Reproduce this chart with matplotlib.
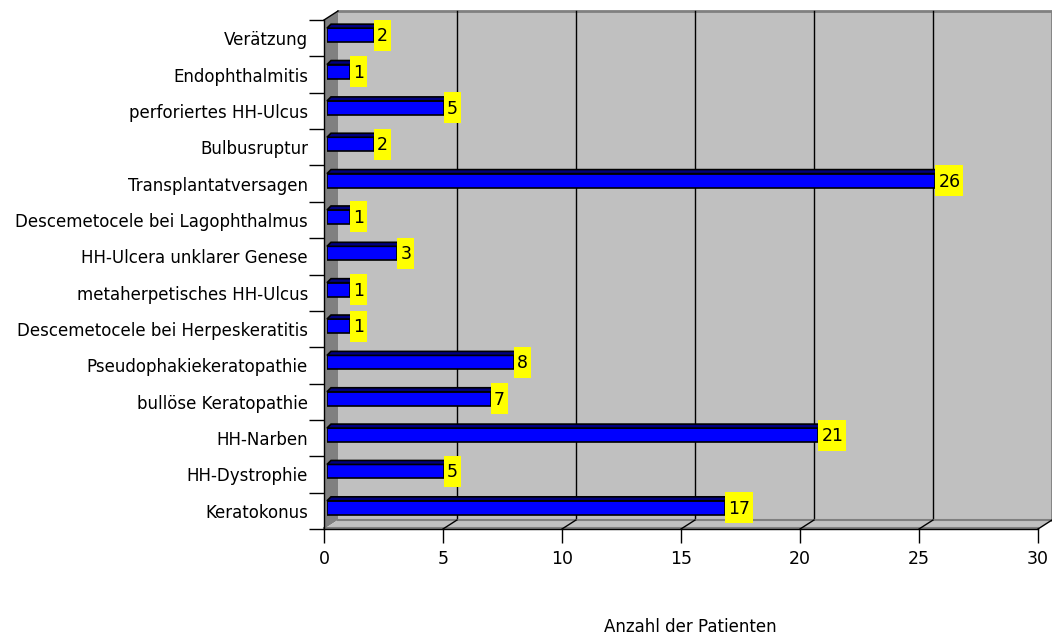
import matplotlib
matplotlib.use("Agg")
import matplotlib.pyplot as plt
import matplotlib.transforms as mtransforms
from matplotlib.patches import Rectangle, Polygon

# Diagnosen (von oben nach unten) und Anzahl der Patienten
diagnosen = [
    "Verätzung",
    "Endophthalmitis",
    "perforiertes HH-Ulcus",
    "Bulbusruptur",
    "Transplantatversagen",
    "Descemetocele bei Lagophthalmus",
    "HH-Ulcera unklarer Genese",
    "metaherpetisches HH-Ulcus",
    "Descemetocele bei Herpeskeratitis",
    "Pseudophakiekeratopathie",
    "bullöse Keratopathie",
    "HH-Narben",
    "HH-Dystrophie",
    "Keratokonus",
]
anzahl = [2, 1, 5, 2, 26, 1, 3, 1, 1, 8, 7, 21, 5, 17]
x_ticks = [0, 5, 10, 15, 20, 25, 30]

# unten beginnen wie im Diagramm
diagnosen = diagnosen[::-1]
anzahl = anzahl[::-1]
n = len(diagnosen)

W, H = 1052, 636
plt.rcParams['font.family'] = ['DejaVu Sans']
fig = plt.figure(figsize=(W / 100, H / 100), dpi=100)
fig.patch.set_facecolor('white')

# vordere Ebene (Achsen)
ax = fig.add_axes([324 / W, 107 / H, 714 / W, 509 / H])
ax.set_xlim(0, 30)
ax.set_ylim(0, n)
ax.patch.set_visible(False)
for s in ['top', 'right']:
    ax.spines[s].set_visible(False)
for s in ['left', 'bottom']:
    ax.spines[s].set_linewidth(1.0)
    ax.spines[s].set_zorder(10)

dx, dy = 14, 9  # Tiefe der 3D-Wand in Pixeln
back = ax.transData + mtransforms.Affine2D().translate(dx, dy)
ident = mtransforms.IdentityTransform()

def px(x, y):
    return ax.transData.transform((x, y))

# Rückwand
ax.add_patch(Rectangle((0, 0), 30, n, transform=back, facecolor='#c0c0c0',
                       edgecolor='none', zorder=0, clip_on=False))
ax.plot([0, 30, 30], [n, n, 0], transform=back, color='#808080', lw=2,
        zorder=1, clip_on=False)
for xv in x_ticks[1:-1]:
    ax.plot([xv, xv], [0, n], transform=back, color='black', lw=1,
            zorder=1, clip_on=False)

# linke Seitenwand
p0, p1 = px(0, 0), px(0, n)
ax.add_patch(Polygon([p0, p1, p1 + (dx, dy), p0 + (dx, dy)], closed=True,
                     transform=ident, facecolor='#808080', edgecolor='none',
                     zorder=1, clip_on=False))
ax.plot([p1[0], p1[0] + dx], [p1[1], p1[1] + dy], transform=ident,
        color='black', lw=1, zorder=2, clip_on=False)

# Boden
q0, q1 = px(0, 0), px(30, 0)
ax.add_patch(Polygon([q0, q1, q1 + (dx, dy), q0 + (dx, dy)], closed=True,
                     transform=ident, facecolor='#c0c0c0', edgecolor='none',
                     zorder=1, clip_on=False))
ax.plot([0, 30], [0, 0], transform=back, color='#808080', lw=1.5,
        zorder=1, clip_on=False)
ax.plot([q0[0], q1[0]], [q0[1] + 1.5, q1[1] + 1.5], transform=ident,
        color='#808080', lw=1.5, zorder=1, clip_on=False)
for xv in x_ticks[1:]:
    q = px(xv, 0)
    ax.plot([q[0], q[0] + dx], [q[1], q[1] + dy], transform=ident,
            color='black', lw=1, zorder=2, clip_on=False)

# Achsenbeschriftung
ax.set_xticks(x_ticks)
ax.set_xticklabels([str(v) for v in x_ticks], fontsize=12.5)
ax.tick_params(axis='x', length=10, width=1, pad=5)
ax.set_yticks(range(n + 1))
ax.set_yticklabels([])
ax.tick_params(axis='y', length=11, width=1, color='black')
ax.set_yticks([i + 0.5 for i in range(n)], minor=True)
ax.set_yticklabels(diagnosen, minor=True, fontsize=12)
ax.tick_params(axis='y', which='minor', length=0, pad=11.5)
for lbl in ax.get_yticklabels(minor=True):
    lbl.set_y(lbl.get_position()[1])

fig.text(690 / W, 1 - 627 / H, 'Anzahl der Patienten', ha='center',
         va='center', fontsize=12)

# Balkenebene, leicht nach hinten versetzt
axb = fig.add_axes([327 / W, 110 / H, 702 / W, 509 / H])
axb.set_xlim(0, 30)
axb.set_ylim(0, n)
axb.axis('off')
bar_h = 0.385
axb.barh([i + 0.5 for i in range(n)], anzahl, height=bar_h, left=0,
         color='#0000ff', edgecolor='black', linewidth=1.2, zorder=3)

for i, v in enumerate(anzahl):
    top = i + 0.5 + bar_h / 2
    a = axb.transData.transform((0, top))
    b = axb.transData.transform((v, top))
    axb.add_patch(Polygon([a, b, b + (4, 4), a + (4, 4)], closed=True,
                          transform=ident, facecolor='#000080',
                          edgecolor='black', lw=1.2, zorder=3, clip_on=False))
    # gelbe Wertbeschriftung
    xe, yc = axb.transData.transform((v, i + 0.5))
    w = 6 + 11 * len(str(v))
    axb.add_patch(Rectangle((xe, yc - 15.5), w, 31, transform=ident,
                            facecolor='#ffff00', edgecolor='none', zorder=4,
                            clip_on=False))
    axb.text(xe + 3, yc - 1, str(v), transform=ident, ha='left', va='center',
             fontsize=12.5, zorder=5)

fig.savefig('out.png', dpi=100)
